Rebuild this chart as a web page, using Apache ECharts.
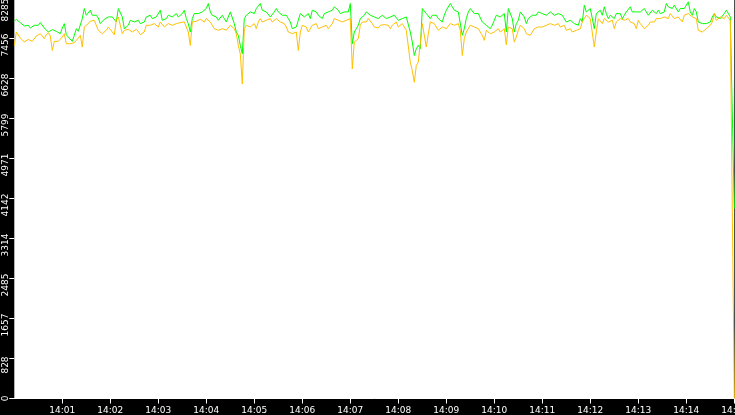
<!DOCTYPE html>
<html>
<head>
<meta charset="utf-8">
<script src="https://cdn.jsdelivr.net/npm/echarts@6/dist/echarts.min.js"></script>
<style>
html,body{margin:0;padding:0;background:#000;}
#chart{width:735px;height:415px;}
</style>
</head>
<body>
<div id="chart"></div>
<script>
// time in seconds since midnight: 14:00:00 -> 14:15:00, one sample every 2.5 s
const startSec = 14 * 3600;
const endSec = 14 * 3600 + 15 * 60;
const stepSec = 2.5;

const yTickLabels = ['0','828','1657','2485','3314','4142','4971','5799','6628','7456','8285'];
const yMax = 8285;

const greenValues = [
  7813,7855,7855,7785,7744,7716,7695,7730,7674,7660,7730,7744,7730,7785,7785,7674,7647,7591,7591,7640,
  7626,7605,7626,7556,7674,7765,7535,7487,7452,7397,7522,7660,7605,7626,7869,8077,7938,7903,8042,7938,
  7973,7938,7882,7765,7799,7855,7869,7903,7938,7903,7938,7799,8077,8042,7903,7660,7695,7730,7834,7855,
  7799,7813,7834,7765,7730,7799,7903,7938,7938,7869,7834,7903,7938,8042,7834,7799,7869,7938,7973,7903,
  7869,7973,7903,7869,7973,8042,7869,7765,7591,7869,7973,8007,7973,7938,8007,8042,8077,8181,8007,7938,
  7903,7903,7834,7799,7938,7869,7799,7903,8007,8042,7765,7591,7522,7313,7140,7869,7938,7938,8007,8042,
  7973,8077,8077,8181,8042,8007,8007,7973,7903,7938,8007,8077,8007,7973,7938,7973,7938,7869,7799,7660,
  7660,7695,7834,7973,8007,7903,7938,7973,7869,8042,8077,8007,7938,7903,7869,7973,7938,8007,8007,8042,
  8112,8112,8042,7973,7973,8007,8042,8007,8181,7348,7591,7660,7730,7869,7903,7938,8007,8042,7938,7973,
  7903,7903,7869,7903,7938,7973,7869,7869,7903,7938,7938,7973,7834,7869,7869,7903,7903,7903,7591,7383,
  7105,7244,7313,7244,8077,8112,7973,7938,7869,7938,7973,7938,7869,7903,7799,7938,8042,8077,8181,8112,
  8042,8007,8007,7973,7522,7660,7869,8007,8077,8042,7973,7973,7973,7938,7799,7765,7730,7695,7660,7730,
  7765,7938,7938,7903,7903,7973,7591,8077,8042,7869,7591,7765,7834,8007,7973,7903,7765,7869,7903,7938,
  7973,7938,8007,7973,7973,8007,7938,7973,8007,7973,7938,7938,7973,7938,7938,7973,7799,7834,7834,7799,
  7765,7730,7730,7869,7799,8146,8007,8042,8077,8077,7660,7973,8007,8042,7938,8112,7973,7869,7938,7973,
  7869,7973,8007,7973,7869,7938,8007,8042,8112,8007,8007,8007,8042,8007,7973,8077,8007,7938,7903,8042,
  8007,7973,8042,7973,8007,8007,8181,8112,8077,8077,8146,8112,8007,8077,8112,8077,8146,8216,8007,7938,
  8077,8007,7799,7765,7765,7799,7765,7799,7799,7903,7973,7903,7869,7869,7903,7973,8042,8007,7903,7938,
  3934
];

const orangeValues = [
  7313,7591,7556,7466,7452,7383,7397,7438,7452,7397,7418,7508,7535,7556,7508,7452,7535,7577,7508,7209,
  7397,7383,7397,7418,7487,7556,7348,7313,7348,7313,7369,7418,7466,7522,7279,7695,7730,7765,7813,7785,
  7834,7869,7626,7591,7556,7522,7626,7695,7716,7591,7535,7834,7903,7869,7556,7626,7626,7647,7626,7591,
  7626,7647,7605,7535,7522,7591,7730,7765,7730,7695,7765,7799,7695,7799,7799,7695,7730,7765,7765,7730,
  7730,7765,7765,7785,7799,7799,7765,7591,7313,7799,7799,7813,7834,7855,7834,7799,7869,7903,7799,7730,
  7660,7626,7626,7591,7660,7695,7626,7660,7730,7765,7660,7556,7313,7140,6515,7660,7730,7765,7695,7695,
  7765,7660,7799,7869,7799,7765,7834,7799,7869,7799,7765,7869,7834,7799,7799,7765,7695,7591,7626,7556,
  7522,7591,7209,7591,7730,7765,7695,7591,7626,7730,7765,7765,7660,7660,7695,7730,7730,7660,7695,7765,
  7869,7869,7834,7834,7799,7799,7834,7834,7869,6828,7383,7418,7452,7730,7799,7799,7799,7869,7834,7765,
  7695,7695,7674,7730,7765,7744,7730,7730,7660,7730,7765,7799,7695,7695,7765,7695,7626,7591,6966,6793,
  6550,6897,6966,7001,7765,7765,7279,7556,7799,7765,7765,7695,7626,7626,7695,7730,7660,7695,7765,7730,
  7730,7765,7765,7626,7105,7452,7591,7626,7730,7730,7695,7660,7660,7591,7522,7418,7626,7660,7556,7522,
  7591,7626,7660,7591,7591,7660,7327,7695,7730,7660,7383,7487,7626,7730,7730,7660,7556,7522,7522,7591,
  7660,7695,7695,7730,7695,7660,7730,7765,7765,7730,7730,7765,7765,7695,7730,7730,7626,7660,7660,7591,
  7591,7626,7660,7660,7799,7869,7938,7903,7869,7834,7279,7591,7869,7834,7765,7869,7834,7799,7799,7834,
  7660,7799,7834,7869,7834,7834,7834,7869,7799,7799,7765,7660,7834,7765,7730,7660,7695,7730,7799,7834,
  7799,7869,7903,7869,7834,7903,7938,7869,7973,7938,7869,7869,7903,7903,7799,7938,7938,7973,7973,7903,
  7938,7869,7626,7591,7591,7626,7660,7695,7730,7799,7973,7834,7869,7903,7903,7869,7938,7903,7834,7799,
  0
];

const toPairs = vals => vals.map((v, i) => [startSec + i * stepSec, v]);
const pad = n => (n < 10 ? '0' : '') + n;

const chart = echarts.init(document.getElementById('chart'), null, {renderer: 'canvas'});
chart.setOption({
  animation: false,
  backgroundColor: '#000000',
  grid: {
    left: 14.3, right: 0.7, top: -1.5, bottom: 16.5,
    containLabel: false, outerBoundsMode: 'none',
    show: true, backgroundColor: '#ffffff', borderWidth: 0
  },
  xAxis: {
    type: 'value',
    min: startSec,
    max: endSec,
    interval: 60,
    splitLine: {show: false},
    axisLine: {show: true, lineStyle: {color: '#ffffff', width: 1}},
    axisTick: {show: true, length: 5, lineStyle: {color: '#ffffff'}},
    axisLabel: {
      color: '#ffffff', fontFamily: 'DejaVu Sans', fontSize: 9, margin: 8,
      showMinLabel: false, showMaxLabel: true, hideOverlap: false,
      formatter: v => {
        if (v <= startSec) return '';
        const h = Math.floor(v / 3600), m = Math.floor((v % 3600) / 60);
        return pad(h) + ':' + pad(m);
      }
    }
  },
  yAxis: {
    type: 'value',
    min: 0,
    max: yMax,
    interval: yMax / 10,
    splitLine: {show: false},
    axisLine: {show: false},
    axisTick: {show: true, length: 5, lineStyle: {color: '#ffffff'}},
    axisLabel: {
      color: '#ffffff', fontFamily: 'DejaVu Sans', fontSize: 9, margin: 4, rotate: 90,
      alignMaxLabel: 'right',
      formatter: (v, i) => {
        const t = yTickLabels[i];
        if (i === 0 || i === yTickLabels.length - 1) return '{e|' + t + '}';
        return '{n|' + t + '}';
      },
      rich: {
        n: {color: '#ffffff', fontFamily: 'DejaVu Sans', fontSize: 9, padding: [0, 13, 0, 0]},
        e: {color: '#ffffff', fontFamily: 'DejaVu Sans', fontSize: 9}
      }
    }
  },
  series: [
    {name: 'green', type: 'line', data: toPairs(greenValues), showSymbol: false, lineStyle: {color: '#00ff00', width: 1}, itemStyle: {color: '#00ff00'}, z: 2},
    {name: 'orange', type: 'line', data: toPairs(orangeValues), showSymbol: false, lineStyle: {color: '#ffc000', width: 1}, itemStyle: {color: '#ffc000'}, z: 3}
  ]
});
</script>
</body>
</html>
